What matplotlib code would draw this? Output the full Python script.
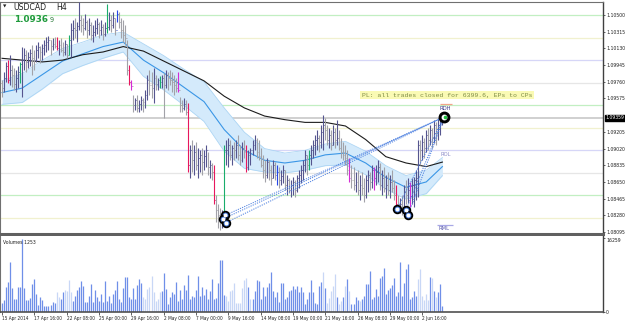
import matplotlib
matplotlib.use("Agg")
import matplotlib.pyplot as plt
import matplotlib.transforms as mtransforms
from matplotlib import font_manager
import numpy as np

#################
## CHART DATA  ##
#################
# USDCAD H4 bars (one entry per bar)
first_open = 1.0975
highs = [
    1.0978, 1.0987, 1.0998, 1.1000, 1.1006, 1.0995, 1.0991, 1.0989, 1.0994, 1.0998,
    1.1015, 1.1013, 1.1011, 1.1009, 1.1012, 1.1017, 1.1011, 1.1017, 1.1020, 1.1016,
    1.1018, 1.1022, 1.1026, 1.1027, 1.1022, 1.1025, 1.1026, 1.1026, 1.1022, 1.1025,
    1.1020, 1.1022, 1.1018, 1.1028, 1.1041, 1.1044, 1.1047, 1.1042, 1.1064, 1.1050,
    1.1047, 1.1051, 1.1044, 1.1047, 1.1042, 1.1039, 1.1044, 1.1047, 1.1042, 1.1044,
    1.1040, 1.1042, 1.1062, 1.1053, 1.1050, 1.1053, 1.1047, 1.1056, 1.1053, 1.1047,
    1.1044, 1.1039, 1.1022, 1.0995, 1.0978, 1.0961, 1.0958, 1.0961, 1.0956, 1.0960,
    1.0958, 1.0967, 1.0984, 1.0989, 1.0987, 1.0991, 1.0984, 1.0980, 1.0982, 1.0984,
    1.0986, 1.0989, 1.0987, 1.0989, 1.0987, 1.0984, 1.0980, 1.0987, 1.0959, 1.0956,
    1.0958, 1.0956, 1.0953, 1.0906, 1.0912, 1.0906, 1.0909, 1.0903, 1.0900, 1.0903,
    1.0900, 1.0906, 1.0898, 1.0889, 1.0886, 1.0884, 1.0851, 1.0840, 1.0836, 1.0834,
    1.0906, 1.0912, 1.0914, 1.0912, 1.0906, 1.0909, 1.0912, 1.0917, 1.0906, 1.0909,
    1.0912, 1.0906, 1.0900, 1.0903, 1.0912, 1.0917, 1.0914, 1.0912, 1.0903, 1.0895,
    1.0889, 1.0892, 1.0889, 1.0884, 1.0889, 1.0887, 1.0884, 1.0881, 1.0878, 1.0884,
    1.0878, 1.0873, 1.0869, 1.0867, 1.0871, 1.0867, 1.0873, 1.0878, 1.0884, 1.0889,
    1.0900, 1.0895, 1.0900, 1.0906, 1.0912, 1.0917, 1.0923, 1.0917, 1.0928, 1.0939,
    1.0936, 1.0928, 1.0925, 1.0923, 1.0928, 1.0925, 1.0934, 1.0923, 1.0914, 1.0909,
    1.0906, 1.0900, 1.0892, 1.0884, 1.0881, 1.0876, 1.0878, 1.0873, 1.0876, 1.0869,
    1.0873, 1.0878, 1.0876, 1.0884, 1.0881, 1.0884, 1.0889, 1.0886, 1.0878, 1.0881,
    1.0873, 1.0876, 1.0873, 1.0878, 1.0867, 1.0862, 1.0851, 1.0847, 1.0851, 1.0862,
    1.0867, 1.0869, 1.0865, 1.0869, 1.0871, 1.0878, 1.0912, 1.0912, 1.0917, 1.0914,
    1.0923, 1.0925, 1.0928, 1.0925, 1.0934, 1.0931, 1.0936, 1.0938, 1.0939,
]
lows = [
    1.0959, 1.0965, 1.0976, 1.0975, 1.0972, 1.0970, 1.0967, 1.0965, 1.0969, 1.0975,
    1.0959, 1.0989, 1.0987, 1.0991, 1.0994, 1.0984, 1.0989, 1.0998, 1.1002, 1.0997,
    1.1000, 1.1006, 1.1009, 1.1011, 1.1006, 1.1011, 1.1013, 1.1011, 1.1006, 1.1009,
    1.1005, 1.1006, 1.1002, 1.1006, 1.1003, 1.1022, 1.1025, 1.1020, 1.1033, 1.1031,
    1.1028, 1.1033, 1.1025, 1.1028, 1.1022, 1.1020, 1.1027, 1.1029, 1.1025, 1.1028,
    1.1022, 1.1027, 1.1030, 1.1033, 1.1031, 1.1036, 1.1028, 1.1042, 1.1036, 1.1025,
    1.1020, 1.1017, 1.0984, 1.0972, 1.0967, 1.0943, 1.0945, 1.0943, 1.0943, 1.0945,
    1.0943, 1.0947, 1.0956, 1.0961, 1.0958, 1.0953, 1.0967, 1.0967, 1.0969, 1.0969,
    1.0936, 1.0969, 1.0967, 1.0972, 1.0965, 1.0961, 1.0965, 1.0965, 1.0943, 1.0943,
    1.0945, 1.0939, 1.0876, 1.0869, 1.0876, 1.0873, 1.0878, 1.0869, 1.0876, 1.0873,
    1.0878, 1.0881, 1.0873, 1.0869, 1.0867, 1.0840, 1.0821, 1.0814, 1.0812, 1.0814,
    1.0825, 1.0884, 1.0881, 1.0889, 1.0884, 1.0889, 1.0892, 1.0889, 1.0884, 1.0887,
    1.0892, 1.0876, 1.0878, 1.0884, 1.0895, 1.0900, 1.0892, 1.0889, 1.0881, 1.0869,
    1.0865, 1.0869, 1.0867, 1.0862, 1.0869, 1.0867, 1.0862, 1.0858, 1.0862, 1.0864,
    1.0856, 1.0851, 1.0853, 1.0848, 1.0851, 1.0848, 1.0854, 1.0858, 1.0864, 1.0867,
    1.0876, 1.0873, 1.0878, 1.0884, 1.0892, 1.0895, 1.0900, 1.0898, 1.0903, 1.0900,
    1.0912, 1.0906, 1.0903, 1.0900, 1.0906, 1.0903, 1.0906, 1.0900, 1.0892, 1.0889,
    1.0884, 1.0873, 1.0865, 1.0858, 1.0856, 1.0854, 1.0851, 1.0845, 1.0851, 1.0843,
    1.0847, 1.0854, 1.0856, 1.0858, 1.0856, 1.0862, 1.0865, 1.0856, 1.0851, 1.0854,
    1.0847, 1.0851, 1.0847, 1.0854, 1.0845, 1.0837, 1.0832, 1.0831, 1.0828, 1.0834,
    1.0840, 1.0842, 1.0837, 1.0840, 1.0837, 1.0845, 1.0848, 1.0884, 1.0889, 1.0892,
    1.0898, 1.0900, 1.0906, 1.0903, 1.0908, 1.0906, 1.0912, 1.0917, 1.0928,
]
closes = [
    1.0969, 1.0980, 1.0993, 1.0978, 1.0989, 1.0984, 1.0974, 1.0980, 1.0987, 1.0996,
    1.1000, 1.1006, 1.0998, 1.1003, 1.1008, 1.1002, 1.1000, 1.1011, 1.1015, 1.1009,
    1.1013, 1.1017, 1.1020, 1.1022, 1.1016, 1.1018, 1.1016, 1.1013, 1.1017, 1.1011,
    1.1009, 1.1018, 1.1006, 1.1022, 1.1033, 1.1036, 1.1033, 1.1038, 1.1044, 1.1039,
    1.1036, 1.1042, 1.1033, 1.1039, 1.1028, 1.1031, 1.1036, 1.1040, 1.1033, 1.1037,
    1.1029, 1.1036, 1.1037, 1.1044, 1.1039, 1.1047, 1.1033, 1.1051, 1.1042, 1.1033,
    1.1028, 1.1025, 1.0989, 1.0976, 1.0971, 1.0950, 1.0956, 1.0947, 1.0951, 1.0956,
    1.0954, 1.0961, 1.0978, 1.0972, 1.0969, 1.0980, 1.0974, 1.0978, 1.0976, 1.0980,
    1.0972, 1.0984, 1.0980, 1.0978, 1.0976, 1.0972, 1.0969, 1.0967, 1.0950, 1.0947,
    1.0951, 1.0943, 1.0884, 1.0900, 1.0889, 1.0898, 1.0884, 1.0892, 1.0895, 1.0887,
    1.0894, 1.0900, 1.0881, 1.0884, 1.0876, 1.0845, 1.0834, 1.0828, 1.0821, 1.0828,
    1.0900, 1.0900, 1.0906, 1.0895, 1.0903, 1.0900, 1.0906, 1.0895, 1.0889, 1.0903,
    1.0898, 1.0881, 1.0895, 1.0900, 1.0906, 1.0912, 1.0898, 1.0894, 1.0884, 1.0878,
    1.0873, 1.0887, 1.0878, 1.0869, 1.0884, 1.0873, 1.0876, 1.0867, 1.0872, 1.0878,
    1.0862, 1.0867, 1.0856, 1.0862, 1.0865, 1.0856, 1.0869, 1.0873, 1.0878, 1.0884,
    1.0895, 1.0884, 1.0895, 1.0900, 1.0906, 1.0912, 1.0914, 1.0909, 1.0920, 1.0928,
    1.0923, 1.0912, 1.0917, 1.0906, 1.0920, 1.0912, 1.0914, 1.0903, 1.0898, 1.0895,
    1.0892, 1.0878, 1.0869, 1.0867, 1.0862, 1.0865, 1.0856, 1.0862, 1.0858, 1.0851,
    1.0867, 1.0873, 1.0865, 1.0878, 1.0869, 1.0876, 1.0881, 1.0862, 1.0869, 1.0858,
    1.0862, 1.0856, 1.0865, 1.0858, 1.0851, 1.0840, 1.0836, 1.0840, 1.0834, 1.0854,
    1.0851, 1.0856, 1.0861, 1.0862, 1.0867, 1.0869, 1.0906, 1.0900, 1.0909, 1.0903,
    1.0917, 1.0912, 1.0923, 1.0914, 1.0928, 1.0920, 1.0928, 1.0934, 1.0936,
]
volumes = [
    2016, 2736, 5400, 6624, 10944, 5256, 2880, 2880, 5400, 5544,
    15984, 5256, 2664, 2664, 3096, 6120, 7200, 3960, 1440, 3240,
    2664, 1296, 1296, 1296, 1584, 2160, 2016, 4464, 3240, 2880,
    4320, 4824, 4680, 7056, 4464, 2520, 3600, 4824, 5400, 6840,
    5616, 2304, 2304, 3600, 6120, 2160, 4824, 3240, 2520, 3960,
    2304, 6840, 2520, 3600, 2016, 3960, 4824, 6840, 2880, 2160,
    5184, 7776, 7776, 3240, 2880, 5184, 2880, 5904, 7344, 6480,
    3240, 2880, 5040, 5400, 7920, 4320, 2520, 2880, 4320, 4680,
    8496, 5040, 1800, 3240, 4464, 3960, 6696, 2520, 4824, 2880,
    5904, 4896, 8064, 2880, 3600, 3240, 4824, 7920, 3600, 5400,
    3744, 5040, 2880, 4680, 7200, 2880, 3024, 6336, 11376, 11520,
    3816, 3600, 2520, 4680, 4824, 6264, 2016, 2016, 2016, 5184,
    7056, 7560, 5400, 2880, 2880, 4680, 7056, 6840, 2880, 5400,
    3600, 5400, 6336, 8784, 4680, 3240, 4320, 2304, 6336, 6480,
    2880, 3240, 4536, 4824, 5616, 5040, 5760, 4320,
    5544, 4320, 1800, 2880, 4464, 7056, 4320, 2016, 1800, 5760,
    6624, 8784, 5184, 2016, 3024, 4680, 5616, 8424, 3240, 1800,
    2520, 3240, 5616, 7200, 4536, 1800, 1800, 3384, 2736, 2520,
    2880, 3456, 6120, 6120, 9000, 2880, 3240, 5040, 3600, 7416,
    7920, 9720, 3960, 4896, 5184, 5904, 7560, 3600, 4464, 11016,
    3600, 6336, 9360, 10584, 2880, 3384, 4680, 3600, 7200, 9360,
    3600, 2736, 3960, 2736, 7704, 7560, 4680, 3240, 4320, 6120, 1253,
]
# bars whose volume is drawn in the pale colour
pale_volume_bars = (list(range(27, 29)) + list(range(31, 35)) + list(range(70, 79))
                    + list(range(111, 122)) + [123, 159, 161, 162, 163, 164, 165, 167,
                    168, 170, 172, 177, 206, 207, 208, 209, 210, 211, 213, 215])

# signal-coloured bars
red_bars = [3, 27, 63, 92, 105, 121, 195]
green_bars = [9, 33, 52, 78, 110, 152]
magenta_bars = [64, 87, 172, 184, 202]
blue_bars = [57, 136]

# moving averages (sampled every 10 bars)
ma_idx = [0, 10, 20, 30, 40, 50, 60, 70, 80, 90, 100, 110, 120, 130, 140, 150,
          160, 170, 180, 190, 200, 210, 218]
ma_slow = [1.1002, 1.1000, 1.0998, 1.1000, 1.1006, 1.1009, 1.1015, 1.1010, 1.0999,
           1.0988, 1.0977, 1.0960, 1.0947, 1.0938, 1.0934, 1.0931, 1.0931, 1.0927,
           1.0912, 1.0893, 1.0886, 1.0882, 1.0887]
ma_fast = [1.0964, 1.0969, 1.0984, 1.0999, 1.1007, 1.1015, 1.1020, 1.1000, 1.0986,
           1.0970, 1.0954, 1.0923, 1.0900, 1.0889, 1.0886, 1.0889, 1.0895, 1.0897,
           1.0886, 1.0870, 1.0859, 1.0865, 1.0882]
band_half = [0.0013, 0.0016, 0.0016, 0.0014, 0.0013, 0.0013, 0.0011, 0.0018, 0.0019,
             0.0020, 0.0022, 0.0024, 0.0020, 0.0013, 0.0011, 0.0011, 0.0012, 0.0013,
             0.0013, 0.0013, 0.0013, 0.0013, 0.0010]

# round-number levels
round_levels = [1.1050, 1.1025, 1.1000, 1.0975, 1.0950, 1.0925, 1.0900, 1.0875, 1.0850, 1.0825]
level_colors = ["#c2efc2", "#f1f1cf", "#d6d6f7", "#e6e6e6"]

# trades: entries -> common exit
entry_idx = [110.4, 109.4, 110.9, 195.5, 200.0, 201.0]
entry_price = [1.0828, 1.0824, 1.0820, 1.0835, 1.0834, 1.0828]
exit_idx = 218.8
exit_price = 1.0937

bid = 1.09359
price_ticks = [1.08095, 1.08280, 1.08465, 1.08650, 1.08835, 1.09020, 1.09205,
               1.09575, 1.09760, 1.09945, 1.10130, 1.10315, 1.10500]
vol_max_label = 16259
date_ticks = [0, 16, 32, 48, 64, 80, 96, 112, 128, 144, 160, 176, 192, 208]
date_labels = ["15 Apr 2014", "17 Apr 16:00", "22 Apr 08:00", "25 Apr 00:00",
               "29 Apr 16:00", "2 May 08:00", "7 May 00:00", "9 May 16:00",
               "14 May 08:00", "19 May 00:00", "21 May 16:00", "26 May 08:00",
               "29 May 00:00", "2 Jun 16:00"]

##############
## LAYOUT   ##
##############
W, H = 625, 323


def fx(px):
    return px / W


def fy(py):
    return 1 - py / H


# a narrow face for the tiny scale labels, if one is installed
narrow = None
for f in font_manager.fontManager.ttflist:
    if f.stretch in ("condensed", "semi-condensed", "extra-condensed") \
            and f.style == "normal" and f.weight in (400, "normal", "regular"):
        if narrow is None or f.name in ("Liberation Sans Narrow", "DejaVu Sans"):
            narrow = f
if narrow is not None:
    scale_font = font_manager.FontProperties(fname=narrow.fname, size=3.7)
    date_font = font_manager.FontProperties(fname=narrow.fname, size=3.4)
else:
    scale_font = font_manager.FontProperties(family="DejaVu Sans", size=3.1)
    date_font = font_manager.FontProperties(family="DejaVu Sans", size=2.9)

fig = plt.figure(figsize=(W / 100, H / 100), dpi=100)
fig.patch.set_facecolor("white")
ax = fig.add_axes([0, fy(234), fx(603), (234 - 2) / H])
vax = fig.add_axes([0, fy(312), fx(603), (312 - 236) / H])

n = min(len(highs), len(lows), len(closes), len(volumes))
idx = np.arange(n)
highs, lows, closes, volumes = (np.array(a[:n]) for a in (highs, lows, closes, volumes))
opens = np.concatenate([[first_open], closes[:-1]])

XLIM = (-1, 297.5)
ax.set_xlim(*XLIM)
vax.set_xlim(*XLIM)
ax.set_ylim(1.08073, 1.10644)
vax.set_ylim(0, 16700)

# round levels + bid line
for k, lv in enumerate(round_levels):
    ax.axhline(lv, color=level_colors[k % 4], lw=0.9, zorder=0)
ax.axhline(bid, color="#c8c8c8", lw=1.2, zorder=0.5)

# band + moving averages
fast = np.array(ma_fast)
half = np.array(band_half)
ax.fill_between(ma_idx, fast - half, fast + half, color="#d4eafb", lw=0, zorder=1)
ax.plot(ma_idx, fast - half, color="#acd5f4", lw=0.6, zorder=1.2)
ax.plot(ma_idx, fast + half, color="#acd5f4", lw=0.6, zorder=1.2)
ax.plot(ma_idx, fast, color="#3a96e6", lw=0.8, zorder=2)
ax.plot(ma_idx, ma_slow, color="#1c1c1c", lw=0.8, zorder=2)

# OHLC bars
colors = np.where(closes >= opens, "#55558f", "#a2a2a8").astype(object)
for lst, c in ((red_bars, "#e8175d"), (green_bars, "#19ad6c"),
               (magenta_bars, "#d52ad5"), (blue_bars, "#2445e8")):
    for i in lst:
        if i < n:
            colors[i] = c
colors = list(colors)
ax.vlines(idx, lows, highs, colors=colors, lw=0.8, zorder=3)
ax.hlines(opens, idx - 0.45, idx, colors=colors, lw=0.6, zorder=3)
ax.hlines(closes, idx, idx + 0.45, colors=colors, lw=0.6, zorder=3)

# trade lines and markers
for ei, ep in zip(entry_idx, entry_price):
    ax.plot([ei, exit_idx], [ep, exit_price], ls=(0, (1.2, 1.2)), color="#4a7ee0",
            lw=0.7, zorder=4)
ax.plot(entry_idx, entry_price, "o", ms=5.5, mfc="#4f82e0", mec="black", mew=1.3, zorder=6)
ax.plot(entry_idx, entry_price, "o", ms=1.8, mfc="white", mec="white", zorder=7)
ax.plot([exit_idx], [exit_price], "o", ms=7.5, mfc="black", mec="black", zorder=6)
ax.plot([exit_idx], [exit_price], "o", ms=3.2, mfc="white", mec="white", zorder=7)
ax.plot([exit_idx + 0.5], [exit_price], "o", ms=1.6, mfc="#22c040", mec="#22c040", zorder=8)

# level labels at right of price
ax.hlines(1.0951, 216.7, 222.8, color="#f2a58a", lw=0.9, zorder=4)
ax.text(219.5, 1.0946, "RDH", fontsize=3.8, color="#3a3a8c", ha="center", va="center", zorder=5)
ax.text(219.8, 1.0895, "ROL", fontsize=3.8, color="#8c8cc8", ha="center", va="center", zorder=5)
ax.hlines(1.0817, 215.5, 223, color="#a8a8e6", lw=0.9, zorder=4)
ax.text(219.0, 1.0813, "RML", fontsize=3.8, color="#5a5ab0", ha="center", va="center", zorder=5)

# volumes
vcolors = ["#c8d7f6" if i in pale_volume_bars else "#6f8fe8" for i in range(n)]
vax.vlines(idx, 0, volumes, colors=vcolors, lw=0.9)

# axes styling
for a in (ax, vax):
    a.set_facecolor("white")
    for s in a.spines.values():
        s.set_color("#707070")
        s.set_linewidth(0.8)
    a.spines["right"].set_color("#404040")
    a.spines["right"].set_linewidth(1.0)
    a.yaxis.tick_right()
    a.tick_params(axis="y", direction="out", length=1.5, width=0.5, pad=0.8,
                  colors="#202020")
ax.spines["bottom"].set_color("#606060")
ax.spines["bottom"].set_linewidth(2.2)
vax.spines["top"].set_visible(False)
vax.spines["bottom"].set_color("#505050")
vax.spines["bottom"].set_linewidth(1.2)

ax.set_yticks(price_ticks)
ax.set_yticklabels([f"{t:.5f}" for t in price_ticks], fontproperties=scale_font)
ax.set_xticks([])

vax.set_yticks([0, vol_max_label])
vax.set_yticklabels(["0", str(vol_max_label)], fontproperties=scale_font)
for lbl in vax.get_yticklabels():
    lbl.set_va("top" if lbl.get_text() != "0" else "center")
vax.set_xticks(date_ticks)
vax.set_xticklabels(date_labels, fontproperties=date_font)
vax.tick_params(axis="x", direction="out", length=2, width=0.5, pad=1.2,
                colors="#202020")
for lbl in vax.get_xticklabels():
    lbl.set_ha("left")

# bid box on the price scale
bt = mtransforms.blended_transform_factory(ax.transAxes, ax.transData)
ax.text(1.004, bid, f"{bid:.5f}", transform=bt, fontproperties=scale_font,
        color="white", ha="left", va="center", zorder=10, clip_on=False,
        bbox=dict(fc="black", ec="black", pad=0.5))

# header texts
fig.text(fx(3), fy(6), "\u25BC", fontsize=3.2, color="#202020", va="center")
fig.text(fx(13), fy(7.5), "USDCAD", fontsize=5.6, color="#202020", va="center")
fig.text(fx(56), fy(7.5), "H4", fontsize=5.6, color="#202020", va="center")
fig.text(fx(14), fy(19.5), "1.0936", fontsize=6.4, fontweight="bold",
         color="#1f9a3c", va="center")
fig.text(fx(50), fy(20.5), "9", fontsize=4.8, color="#2a7a3a", va="center")
fig.text(fx(3), fy(242), "Volumes 1253", fontsize=3.3, color="#202020", va="center")

fig.text(fx(362), fy(95), "PL: all trades closed for 6399.6, EPs to CPs",
         family="Liberation Mono", fontsize=4.6, color="#7d8b45", va="center",
         bbox=dict(fc="#fafab4", ec="none", pad=1.2))

fig.savefig("out.png", dpi=100, facecolor="white")
